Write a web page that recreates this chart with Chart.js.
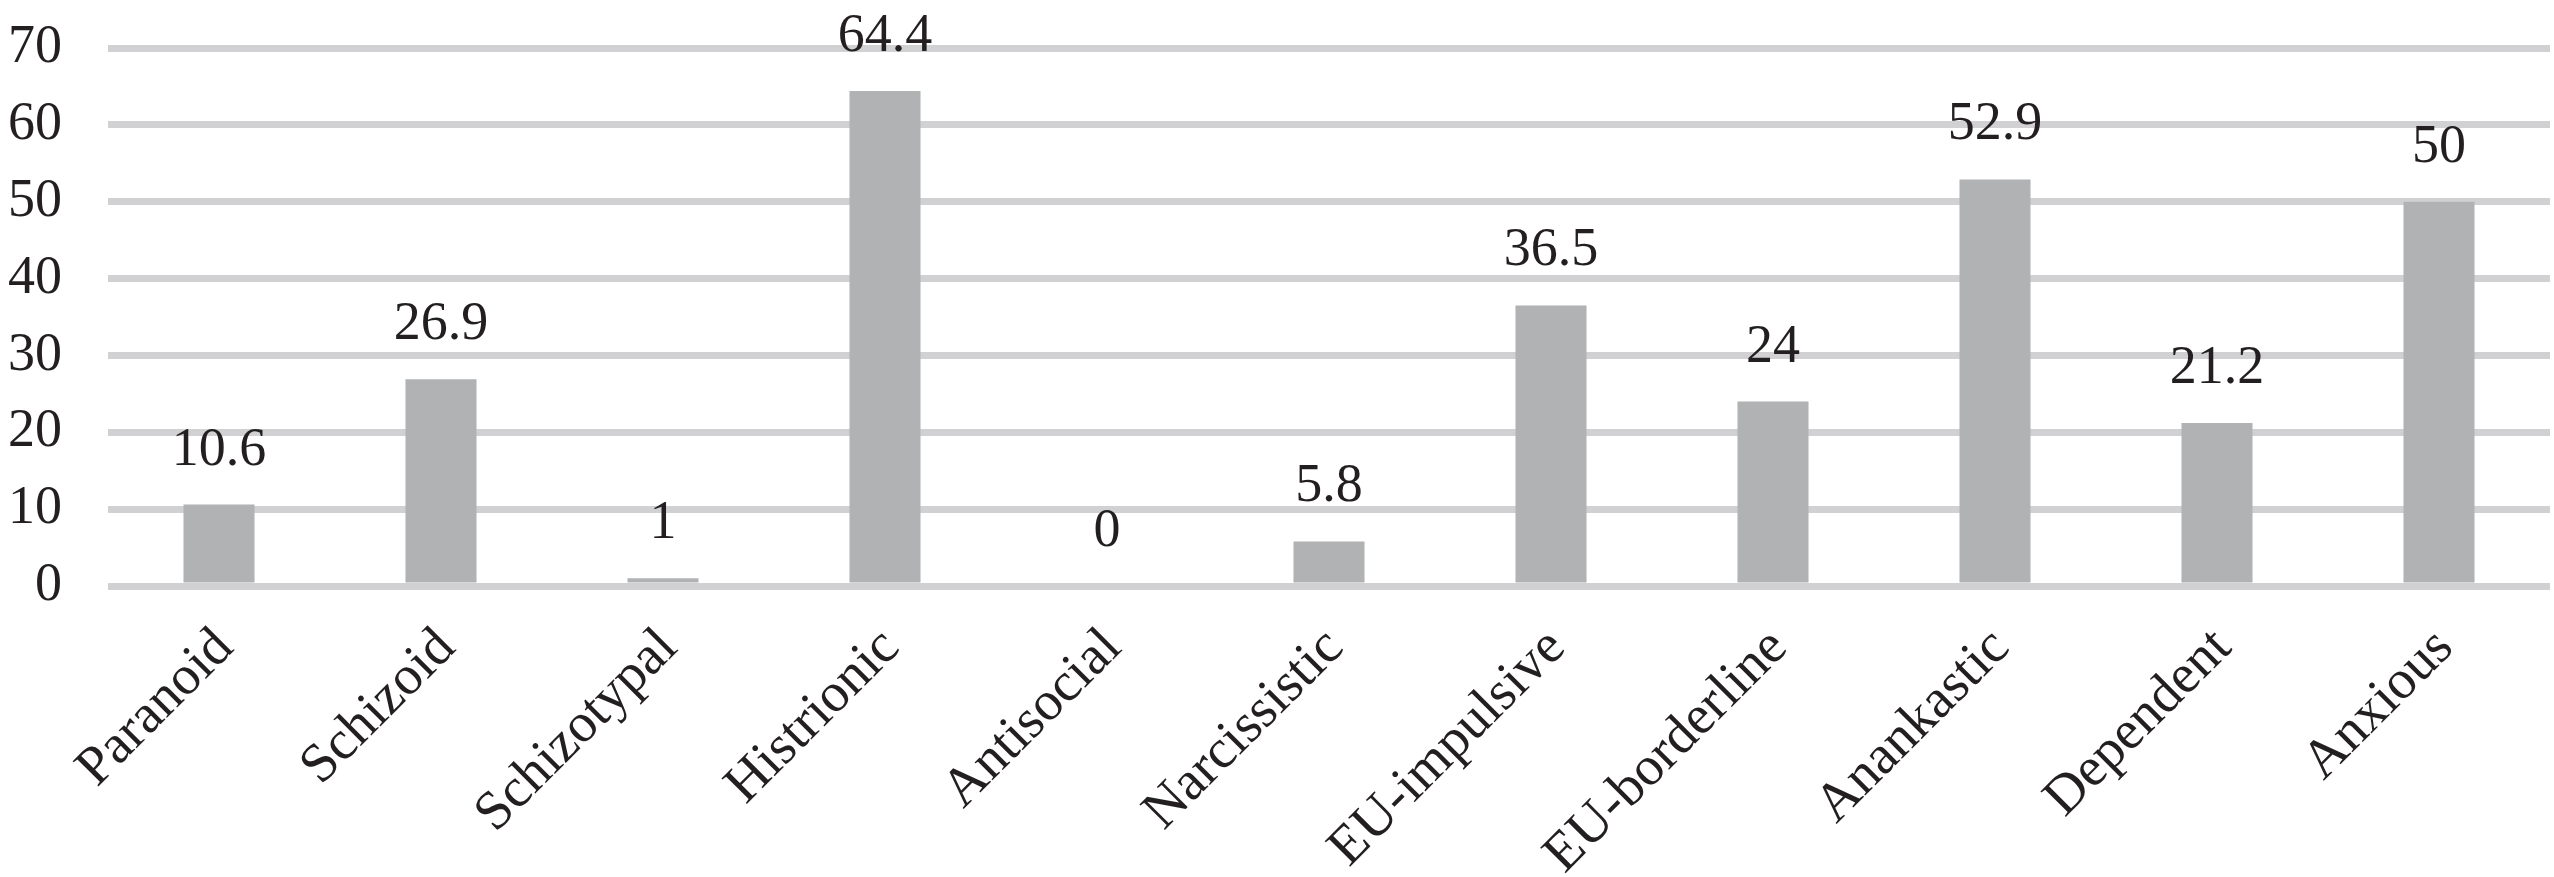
<!DOCTYPE html>
<html>
<head>
<meta charset="utf-8">
<style>
  html, body { margin: 0; padding: 0; background: #ffffff; }
  #wrap { width: 2554px; height: 877px; }
</style>
<script src="https://cdn.jsdelivr.net/npm/chart.js@4/dist/chart.umd.min.js"></script>
</head>
<body>
<div id="wrap"><canvas id="c" width="2554" height="877"></canvas></div>
<script>
const categories = ["Paranoid", "Schizoid", "Schizotypal", "Histrionic", "Antisocial", "Narcissistic", "EU-impulsive", "EU-borderline", "Anankastic", "Dependent", "Anxious"];
const values = [10.6, 26.9, 1, 64.4, 0, 5.8, 36.5, 24, 52.9, 21.2, 50];
const yTicks = [0, 10, 20, 30, 40, 50, 60, 70];

const FONT = "'Liberation Serif', 'Times New Roman', serif";
const TEXT = "#231f20";

const valueLabels = {
  id: "valueLabels",
  afterDatasetsDraw(chart) {
    const ctx = chart.ctx;
    const meta = chart.getDatasetMeta(0);
    ctx.save();
    ctx.font = "54px " + FONT;
    ctx.fillStyle = TEXT;
    ctx.textAlign = "center";
    ctx.textBaseline = "alphabetic";
    meta.data.forEach((bar, i) => {
      ctx.fillText(String(values[i]), bar.x, bar.y - 40);
    });
    ctx.restore();
  }
};

new Chart(document.getElementById("c"), {
  type: "bar",
  data: {
    labels: categories,
    datasets: [{
      data: values,
      backgroundColor: "#b1b2b4",
      borderWidth: 0,
      categoryPercentage: 1,
      barPercentage: 0.32
    }]
  },
  options: {
    responsive: false,
    animation: false,
    devicePixelRatio: 1,
    layout: { padding: { left: 4, right: 4, top: 48, bottom: 0 } },
    plugins: { legend: { display: false }, tooltip: { enabled: false } },
    scales: {
      x: {
        grid: { display: false, drawTicks: false },
        border: { display: false },
        ticks: {
          font: { family: FONT, size: 55 },
          color: TEXT,
          minRotation: 45,
          maxRotation: 45,
          padding: 30,
          labelOffset: 6,
          autoSkip: false
        },
        afterFit(scale) {
          scale.height = 291;
          scale.paddingLeft = 0;
          scale.paddingRight = 0;
        }
      },
      y: {
        min: 0,
        max: 70,
        afterBuildTicks(scale) { scale.ticks = yTicks.map(v => ({ value: v })); },
        grid: { color: "#d1d1d3", lineWidth: 7, drawTicks: false },
        border: { display: false },
        ticks: {
          font: { family: FONT, size: 54 },
          color: TEXT,
          padding: 46
        },
        afterFit(scale) {
          scale.width = 104;
          scale.paddingTop = 0;
          scale.paddingBottom = 0;
        }
      }
    }
  },
  plugins: [valueLabels]
});
</script>
</body>
</html>
